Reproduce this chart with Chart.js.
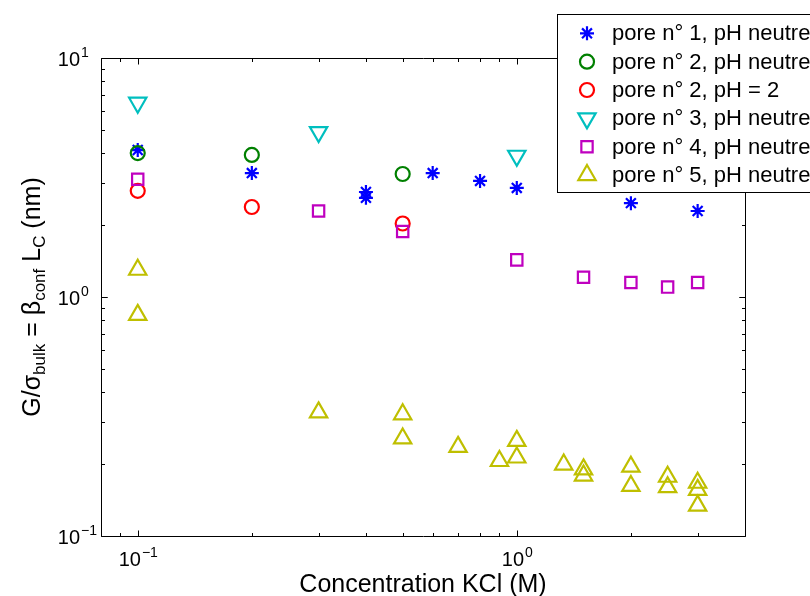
<!DOCTYPE html>
<html><head><meta charset="utf-8">
<script src="https://cdn.jsdelivr.net/npm/chart.js"></script>
<style>html,body{margin:0;padding:0;background:#fff}#wrap{width:810px;height:596px;position:relative}</style>
</head><body><div id="wrap"><canvas id="c" width="810" height="596"></canvas></div>
<script>
// ---- data ----
const seriesNames = ['pore n° 1, pH neutre', 'pore n° 2, pH neutre', 'pore n° 2, pH = 2', 'pore n° 3, pH neutre', 'pore n° 4, pH neutre', 'pore n° 5, pH neutre'];
const pore1X = [0.1, 0.2, 0.4, 0.4, 0.6, 0.8, 1, 2, 3];
const pore1Y = [4.12, 3.30, 2.75, 2.60, 3.30, 3.06, 2.86, 2.47, 2.29];
const pore2X = [0.1, 0.2, 0.5];
const pore2Y = [4.00, 3.93, 3.27];
const pore2AcidX = [0.1, 0.2, 0.5];
const pore2AcidY = [2.78, 2.38, 2.03];
const pore3X = [0.1, 0.3, 1];
const pore3Y = [6.5, 4.9, 3.9];
const pore4X = [0.1, 0.3, 0.5, 1, 1.5, 2, 2.5, 3];
const pore4Y = [3.11, 2.29, 1.88, 1.43, 1.21, 1.15, 1.10, 1.15];
const pore5X = [0.1, 0.1, 0.3, 0.5, 0.5, 0.7, 0.9, 1, 1, 1.33, 1.5, 1.5, 2, 2, 2.5, 2.5, 3, 3, 3];
const pore5Y = [1.30, 0.842, 0.329, 0.323, 0.256, 0.236, 0.206, 0.250, 0.213, 0.199, 0.190, 0.179, 0.195, 0.162, 0.177, 0.160, 0.167, 0.156, 0.134];
const xTickValues = [0.1, 1];
const xTickLabels = [['10', '−1'], ['10', '0']];
const yTickValues = [0.1, 1, 10];
const yTickLabels = [['10', '−1'], ['10', '0'], ['10', '1']];
const xTitle = 'Concentration KCl (M)';
const yTitleParts = [['G/σ', 0], ['bulk', 1], [' = β', 0], ['conf', 1], [' L', 0], ['C', 1], [' (nm)', 0]];

// ---- styles ----
const FONT = '"Liberation Sans", Arial, Helvetica, sans-serif';
const colors = ['#0000ff', '#008000', '#ff0000', '#00bfbf', '#bf00bf', '#bfbf00'];
const styles = ['star', 'circle', 'circle', 'triangle', 'rect', 'triangle'];
const rotations = [0, 0, 0, 180, 0, 0];
const radii = [7, 7, 7, 10, 8, 10];

const xs = [pore1X, pore2X, pore2AcidX, pore3X, pore4X, pore5X];
const ys = [pore1Y, pore2Y, pore2AcidY, pore3Y, pore4Y, pore5Y];

const datasets = seriesNames.map((name, i) => ({
  label: name,
  data: xs[i].map((x, j) => ({x: x, y: ys[i][j]})),
  pointStyle: styles[i],
  rotation: rotations[i],
  pointRadius: radii[i],
  pointBorderWidth: 2.2,
  pointBorderColor: colors[i],
  pointBackgroundColor: 'rgba(0,0,0,0)',
  showLine: false,
  clip: false,
  order: -i
}));

function drawMarker(ctx, style, rot, r, x, y, color) {
  ctx.save();
  ctx.strokeStyle = color; ctx.lineWidth = 2.2;
  ctx.beginPath();
  if (style === 'circle') {
    ctx.arc(x, y, r, 0, Math.PI * 2);
  } else if (style === 'rect') {
    const s = Math.SQRT1_2 * r;
    ctx.rect(x - s, y - s, 2 * s, 2 * s);
  } else if (style === 'triangle') {
    let a = rot * Math.PI / 180;
    ctx.moveTo(x + Math.sin(a) * r, y - Math.cos(a) * r);
    a += 2 * Math.PI / 3;
    ctx.lineTo(x + Math.sin(a) * r, y - Math.cos(a) * r);
    a += 2 * Math.PI / 3;
    ctx.lineTo(x + Math.sin(a) * r, y - Math.cos(a) * r);
    ctx.closePath();
  } else if (style === 'star') {
    const d = Math.SQRT1_2 * r;
    ctx.moveTo(x - r, y); ctx.lineTo(x + r, y);
    ctx.moveTo(x, y - r); ctx.lineTo(x, y + r);
    ctx.moveTo(x - d, y - d); ctx.lineTo(x + d, y + d);
    ctx.moveTo(x - d, y + d); ctx.lineTo(x + d, y - d);
  }
  ctx.stroke();
  ctx.restore();
}

const TICK_FS = 20, SUP_FS = 14, TITLE_FS = 25, SUB_FS = 17, LEG_FS = 22;

function drawPow(ctx, parts, x, y, mode) {
  ctx.font = TICK_FS + 'px ' + FONT;
  const wb = ctx.measureText(parts[0]).width;
  ctx.font = SUP_FS + 'px ' + FONT;
  const we = ctx.measureText(parts[1]).width;
  let start = mode === 'center' ? x - (wb + we) / 2 : x - wb;
  ctx.textAlign = 'left'; ctx.textBaseline = 'alphabetic';
  ctx.font = TICK_FS + 'px ' + FONT;
  ctx.fillText(parts[0], start, y);
  ctx.font = SUP_FS + 'px ' + FONT;
  ctx.fillText(parts[1], start + wb + 1, y - 9);
}

const axesPlugin = {
  id: 'matlabAxes',
  afterDraw(chart) {
    const ctx = chart.ctx;
    const xs_ = chart.scales.x, ys_ = chart.scales.y;
    const a = chart.chartArea;
    const L = Math.round(a.left) + 0.5, R = Math.round(a.right) + 0.5;
    const T = Math.round(a.top) + 0.5, B = Math.round(a.bottom) + 0.5;
    ctx.save();
    ctx.strokeStyle = '#000'; ctx.lineWidth = 1;
    ctx.beginPath();
    ctx.rect(L, T, R - L, B - T);
    ctx.stroke();
    // ticks
    ctx.beginPath();
    const yMajor = 6, yMinor = 3.5;
    for (let dec = 0.1; dec < 10; dec *= 10) {
      for (let m = 1; m <= 10; m++) {
        const v = dec * m;
        if (v > 10.0001) continue;
        const p = Math.round(ys_.getPixelForValue(v)) + 0.5;
        const len = (m === 1 || m === 10) ? yMajor : yMinor;
        ctx.moveTo(L, p); ctx.lineTo(L + len, p);
        ctx.moveTo(R, p); ctx.lineTo(R - len, p);
      }
    }
    const xVals = [];
    for (let m = 8; m <= 9; m++) xVals.push([m * 0.01, false]);
    for (let m = 1; m <= 9; m++) xVals.push([m * 0.1, m === 1]);
    for (let m = 1; m <= 4; m++) xVals.push([m * 1, m === 1]);
    xVals.forEach(([v, major]) => {
      if (v < 0.08 || v > 4) return;
      const p = Math.round(xs_.getPixelForValue(v)) + 0.5;
      const len = major ? yMajor : yMinor;
      ctx.moveTo(p, B); ctx.lineTo(p, B - len);
      ctx.moveTo(p, T); ctx.lineTo(p, T + len);
    });
    ctx.stroke();
    // tick labels
    ctx.fillStyle = '#000';
    yTickValues.forEach((v, i) => {
      const p = ys_.getPixelForValue(v);
      drawPow(ctx, yTickLabels[i], 80, p + 8, 'right');
    });
    xTickValues.forEach((v, i) => {
      const p = xs_.getPixelForValue(v);
      drawPow(ctx, xTickLabels[i], p, 566, 'center');
    });
    // x title
    ctx.font = TITLE_FS + 'px ' + FONT;
    ctx.textAlign = 'center'; ctx.textBaseline = 'alphabetic';
    ctx.fillText(xTitle, (a.left + a.right) / 2, 592);
    // y title
    ctx.save();
    ctx.translate(40, (a.top + a.bottom) / 2);
    ctx.rotate(-Math.PI / 2);
    let total = 0;
    yTitleParts.forEach(([t, sub]) => {
      ctx.font = (sub ? SUB_FS : TITLE_FS) + 'px ' + FONT;
      total += ctx.measureText(t).width;
    });
    let cx = -total / 2;
    ctx.textAlign = 'left';
    yTitleParts.forEach(([t, sub]) => {
      ctx.font = (sub ? SUB_FS : TITLE_FS) + 'px ' + FONT;
      ctx.fillText(t, cx, sub ? 5 : 0);
      cx += ctx.measureText(t).width;
    });
    ctx.restore();
    // legend
    const lx = 557.5, ly = 14.5, lw = 320, lh = 178;
    ctx.fillStyle = '#fff';
    ctx.fillRect(lx, ly, lw, lh);
    ctx.strokeStyle = '#000'; ctx.lineWidth = 1;
    ctx.strokeRect(lx, ly, lw, lh);
    ctx.font = LEG_FS + 'px ' + FONT;
    ctx.fillStyle = '#000';
    ctx.textAlign = 'left'; ctx.textBaseline = 'middle';
    seriesNames.forEach((name, i) => {
      const yy = 33.3 + i * 28.35;
      drawMarker(ctx, styles[i], rotations[i], radii[i], 587, yy, colors[i]);
      ctx.fillStyle = '#000';
      ctx.fillText(name, 612, yy + 1);
    });
    ctx.restore();
  }
};

new Chart(document.getElementById('c'), {
  type: 'scatter',
  data: { datasets: datasets },
  options: {
    responsive: false,
    animation: false,
    layout: { padding: { left: 101, right: 65, top: 58, bottom: 60 } },
    scales: {
      x: { type: 'logarithmic', min: 0.08, max: 4, display: false },
      y: { type: 'logarithmic', min: 0.1, max: 10, display: false }
    },
    plugins: { legend: { display: false }, tooltip: { enabled: false } }
  },
  plugins: [axesPlugin]
});
</script>
</body></html>
